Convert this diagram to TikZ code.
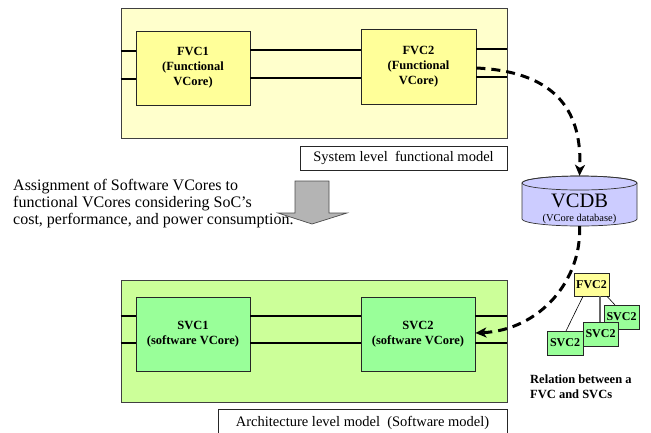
\documentclass[tikz,border=0pt]{standalone}
\usepackage{fontspec}
\setmainfont{Liberation Serif}
\usetikzlibrary{arrows.meta}
\definecolor{panelyellow}{HTML}{FFFFCC}
\definecolor{coreyellow}{HTML}{FFFF99}
\definecolor{panelgreen}{HTML}{CCFF99}
\definecolor{coregreen}{HTML}{99FF99}
\definecolor{dbblue}{HTML}{CCCCFF}
\definecolor{arrowgray}{HTML}{B4B4B4}
\begin{document}
\begin{tikzpicture}[x=1pt,y=-1pt,
  panel/.style={draw=black!75, line width=0.8pt, inner sep=0},
  corebox/.style={draw=black!85, line width=0.8pt, align=center, inner sep=0,
    minimum width=114pt, minimum height=74pt,
    font=\fontsize{12.5}{15}\selectfont\bfseries},
  labelbox/.style={draw=black!85, fill=white, line width=0.7pt, inner sep=0,
    font=\fontsize{14.5}{17}\selectfont},
  wire/.style={line width=2.2pt},
  dasharrow/.style={line width=3pt, dash pattern=on 9pt off 6pt,
    -{Stealth[length=11pt,width=10pt,inset=3pt]}},
  tinybox/.style={draw=black!85, line width=0.6pt, inner sep=0,
    minimum width=35pt, minimum height=24pt,
    font=\fontsize{12}{14}\selectfont\bfseries},
  link/.style={line width=0.6pt}
]
\useasboundingbox (0,0) rectangle (651,432);

% ---- system level (functional) model ----
\node[panel, fill=panelyellow, minimum width=386pt, minimum height=130pt] (toppanel) at (314,73) {};
\node[corebox, fill=coreyellow] (fvc1) at (193,68) {FVC1\\(Functional\\VCore)};
\node[corebox, fill=coreyellow, minimum width=115pt, minimum height=75pt] (fvc2) at (418.5,66.5) {FVC2\\(Functional\\VCore)};
\draw[wire] (toppanel.west |- 0,51) -- (fvc1.west |- 0,51);
\draw[wire] (toppanel.west |- 0,79) -- (fvc1.west |- 0,79);
\draw[wire] (fvc1.east |- 0,50) -- (fvc2.west |- 0,50);
\draw[wire] (fvc1.east |- 0,78) -- (fvc2.west |- 0,78);
\draw[wire] (fvc2.east |- 0,49) -- (toppanel.east |- 0,49);
\draw[wire] (fvc2.east |- 0,77) -- (toppanel.east |- 0,77);
\node[labelbox, minimum width=207pt, minimum height=24pt] (syslabel) at (403.5,158) {System level\ \ functional model};

% ---- architecture level (software) model ----
\node[panel, fill=panelgreen, minimum width=386pt, minimum height=122pt] (botpanel) at (314,341) {};
\node[corebox, fill=coregreen] (svc1) at (193,334) {SVC1\\(software VCore)};
\node[corebox, fill=coregreen] (svc2) at (418,334) {SVC2\\(software VCore)};
\draw[wire] (botpanel.west |- 0,316) -- (svc1.west |- 0,316);
\draw[wire] (botpanel.west |- 0,343) -- (svc1.west |- 0,343);
\draw[wire] (svc1.east |- 0,316) -- (svc2.west |- 0,316);
\draw[wire] (svc1.east |- 0,343) -- (svc2.west |- 0,343);
\draw[wire] (svc2.east |- 0,316) -- (botpanel.east |- 0,316);
\draw[wire] (svc2.east |- 0,343) -- (botpanel.east |- 0,343);
\node[labelbox, minimum width=289pt, minimum height=28pt] (archlabel) at (362.5,423) {Architecture level model\ \ (Software model)};

% ---- VCore database cylinder ----
\node[minimum width=115pt, minimum height=50pt, inner sep=0] (vcdb) at (579.5,201) {};
\filldraw[fill=dbblue, draw=black!80, line width=0.7pt]
  (522,183) -- (522,219) arc[start angle=180, end angle=0, x radius=57.5, y radius=7]
  -- (637,183) arc[start angle=0, end angle=-180, x radius=57.5, y radius=7] -- cycle;
\draw[draw=black!80, line width=0.7pt] (579.5,183) ellipse[x radius=57.5, y radius=7];
\node[inner sep=0, font=\fontsize{20.5}{22}\selectfont] (vcdbname) at (579.5,201) {VCDB};
\node[inner sep=0, font=\fontsize{10.5}{12}\selectfont] (vcdbsub) at (579.5,218.5) {(VCore database)};

% ---- relation between a FVC and its SVCs ----
\node[tinybox, fill=coreyellow, minimum height=23pt] (rfvc) at (591.5,284.5) {FVC2};
\draw[link] (rfvc.south -| 583,0) -- (566,331);
\draw[line width=1.6pt, black!60] (rfvc.south -| 600,0) -- (600,322);
\draw[link] (rfvc.south -| 607,0) -- (615,305);
\node[tinybox, fill=coregreen] (rsvcc) at (621.5,317) {SVC2};
\node[tinybox, fill=coregreen] (rsvcb) at (600.5,334) {SVC2};
\node[tinybox, fill=coregreen, minimum width=36pt] (rsvca) at (565,343) {SVC2};
\node[anchor=north west, align=left, inner sep=0, font=\fontsize{12.5}{15}\selectfont\bfseries] (reltext) at (530,375) {Relation between a\\FVC and SVCs};

% ---- dashed lookup path through the database ----
\draw[dasharrow] (fvc2.east |- 0,68) .. controls (560,72) and (582,115) .. (vcdb.north);
\draw[dasharrow] (vcdb.south) .. controls (582,280) and (540,330) .. (svc2.east |- 0,333);

% ---- assignment step ----
\filldraw[fill=arrowgray, draw=black!70, line width=0.7pt]
  (295,181) -- (329,181) -- (329,213) -- (347,213) -- (312,224) -- (278,213) -- (295,213) -- cycle;
\node[anchor=north west, align=left, inner sep=0, font=\fontsize{16}{17}\selectfont] (assign) at (13,179.5)
  {Assignment of Software VCores to\\functional VCores considering SoC’s\\cost, performance, and power consumption.};
\end{tikzpicture}
\end{document}
